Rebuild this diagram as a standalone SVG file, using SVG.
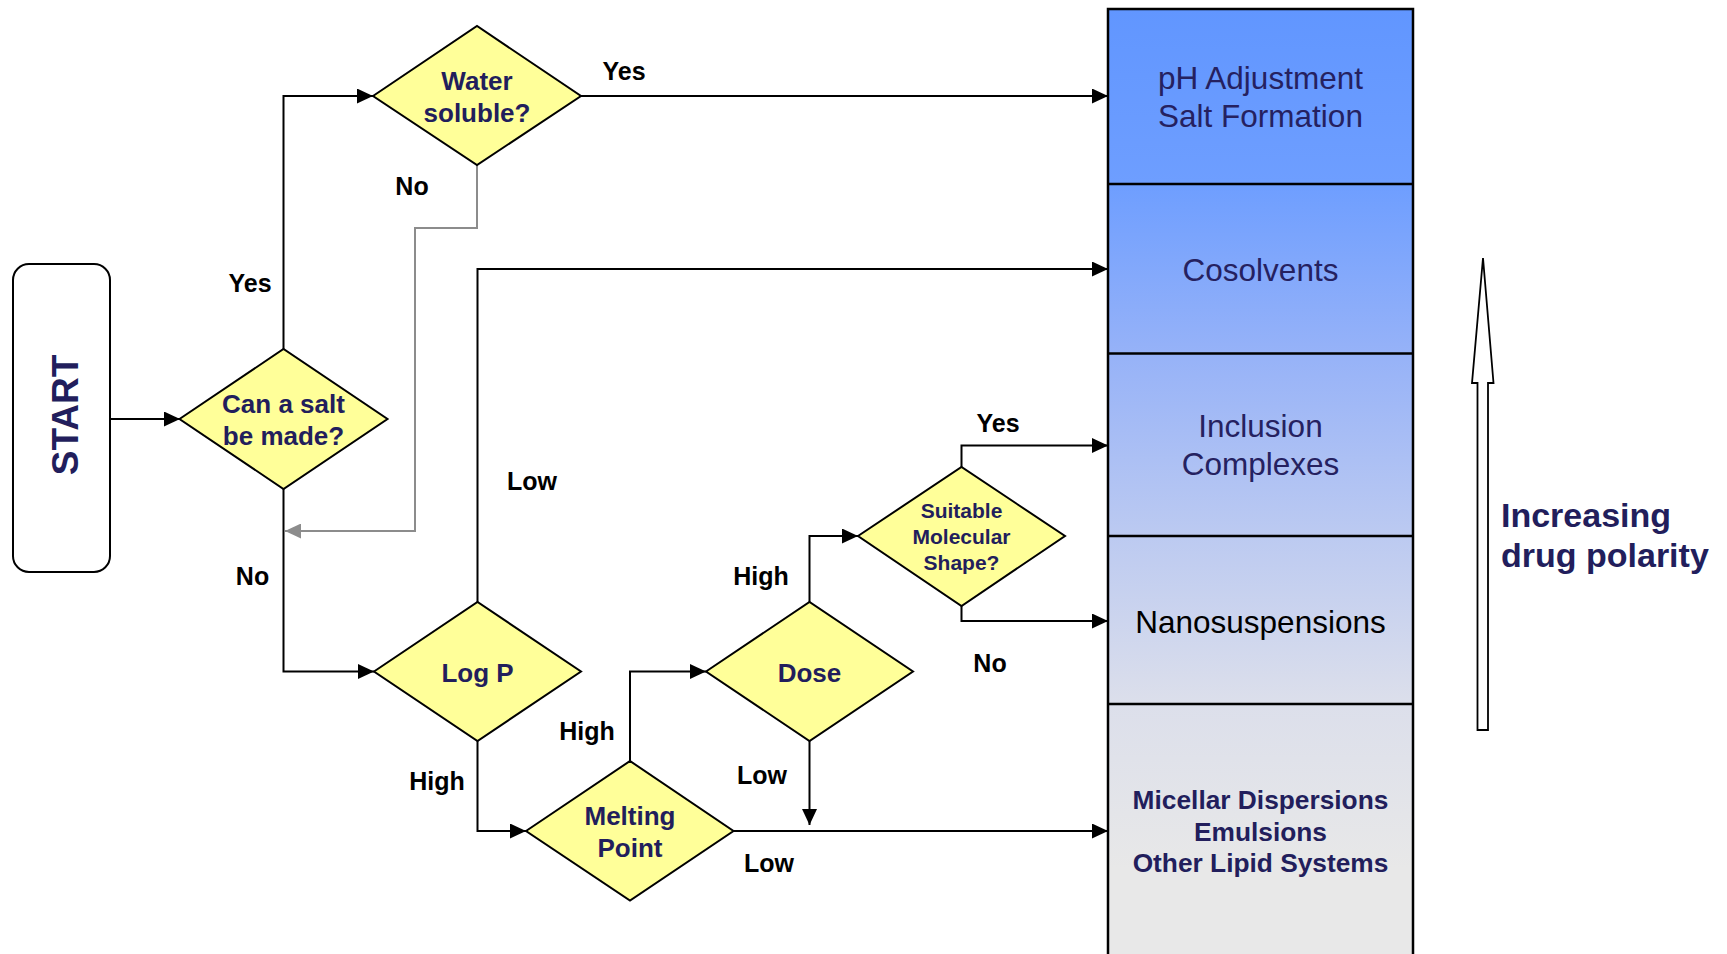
<svg xmlns="http://www.w3.org/2000/svg" width="1727" height="954" viewBox="0 0 1727 954">
<style>
.dia{fill:#ffff99;stroke:#000;stroke-width:2;}
.dt{font-family:"Liberation Sans",Arial,sans-serif;font-weight:bold;font-size:26px;fill:#221e5c;text-anchor:middle;}
.dts{font-family:"Liberation Sans",Arial,sans-serif;font-weight:bold;font-size:21px;fill:#221e5c;text-anchor:middle;}
.lbl{font-family:"Liberation Sans",Arial,sans-serif;font-weight:bold;font-size:25px;fill:#000;text-anchor:middle;}
.con{fill:none;stroke:#000;stroke-width:2;}
.gcon{fill:none;stroke:#8c8c8c;stroke-width:2;}
.ct{font-family:"Liberation Sans",Arial,sans-serif;font-size:31.5px;fill:#252160;text-anchor:middle;}
.ctk{font-family:"Liberation Sans",Arial,sans-serif;font-size:31.5px;fill:#000;text-anchor:middle;}
.ctb{font-family:"Liberation Sans",Arial,sans-serif;font-weight:bold;font-size:26.3px;fill:#221e5c;text-anchor:middle;}
.sep{stroke:#000;stroke-width:2.5;}
</style>
<defs>
<marker id="ah" markerUnits="userSpaceOnUse" markerWidth="16" markerHeight="15" refX="16" refY="7.5" orient="auto"><path d="M0,0 L16,7.5 L0,15 z" fill="#000"/></marker>
<marker id="ahg" markerUnits="userSpaceOnUse" markerWidth="16" markerHeight="15" refX="16" refY="7.5" orient="auto"><path d="M0,0 L16,7.5 L0,15 z" fill="#8c8c8c"/></marker>
<linearGradient id="colg" gradientUnits="userSpaceOnUse" x1="0" y1="9" x2="0" y2="954">
<stop offset="0" stop-color="#6196ff"/>
<stop offset="0.185" stop-color="#6e9eff"/>
<stop offset="0.364" stop-color="#96b2f8"/>
<stop offset="0.558" stop-color="#bccaf1"/>
<stop offset="0.735" stop-color="#dcdfeb"/>
<stop offset="0.91" stop-color="#e8e8e8"/>
<stop offset="1" stop-color="#e8e8e8"/>
</linearGradient>
</defs>

<g id="connectors">
<path class="con" d="M110,419 L180,419" marker-end="url(#ah)"/>
<path class="con" d="M283.5,349 L283.5,96 L373,96" marker-end="url(#ah)"/>
<path class="con" d="M580.5,96 L1108,96" marker-end="url(#ah)"/>
<path class="gcon" d="M477,165 L477,228 L415,228 L415,531 L285,531" marker-end="url(#ahg)"/>
<path class="con" d="M283.5,489 L283.5,671.5 L374,671.5" marker-end="url(#ah)"/>
<path class="con" d="M477.5,602 L477.5,269 L1108,269" marker-end="url(#ah)"/>
<path class="con" d="M477.5,741 L477.5,831 L526,831" marker-end="url(#ah)"/>
<path class="con" d="M630,761 L630,671.5 L706,671.5" marker-end="url(#ah)"/>
<path class="con" d="M809.5,602 L809.5,536 L858,536" marker-end="url(#ah)"/>
<path class="con" d="M809.5,741 L809.5,825" marker-end="url(#ah)"/>
<path class="con" d="M733.5,831 L1108,831" marker-end="url(#ah)"/>
<path class="con" d="M961.5,467 L961.5,445.5 L1108,445.5" marker-end="url(#ah)"/>
<path class="con" d="M961.5,606 L961.5,621 L1108,621" marker-end="url(#ah)"/>
</g>

<g id="labels">
<text class="lbl" x="624" y="80">Yes</text>
<text class="lbl" x="412" y="195">No</text>
<text class="lbl" x="250" y="292">Yes</text>
<text class="lbl" x="252.5" y="585">No</text>
<text class="lbl" x="532" y="490">Low</text>
<text class="lbl" x="437" y="790">High</text>
<text class="lbl" x="587" y="740">High</text>
<text class="lbl" x="761" y="585">High</text>
<text class="lbl" x="762" y="784">Low</text>
<text class="lbl" x="769" y="872">Low</text>
<text class="lbl" x="990" y="672">No</text>
<text class="lbl" x="998" y="432">Yes</text>
</g>

<g id="start">
<rect x="13" y="264" width="97" height="308" rx="16" ry="16" fill="#fff" stroke="#000" stroke-width="2"/>
<text transform="translate(78,415) rotate(-90)" text-anchor="middle" font-family="Liberation Sans,Arial,sans-serif" font-weight="bold" font-size="37" fill="#221e5c">START</text>
</g>

<g id="can-salt">
<polygon class="dia" points="179.5,419 283.5,349 387.5,419 283.5,489"/>
<text class="dt" x="283.5" y="413">Can a salt</text>
<text class="dt" x="283.5" y="445">be made?</text>
</g>

<g id="water-soluble">
<polygon class="dia" points="373,96 477,26 581,96 477,165"/>
<text class="dt" x="477" y="90">Water</text>
<text class="dt" x="477" y="121.5">soluble?</text>
</g>

<g id="log-p">
<polygon class="dia" points="374,671.5 477.5,602 581,671.5 477.5,741"/>
<text class="dt" x="477.5" y="681.5">Log P</text>
</g>

<g id="dose">
<polygon class="dia" points="706,671.5 809.5,602 913,671.5 809.5,741"/>
<text class="dt" x="809.5" y="681.5">Dose</text>
</g>

<g id="melting-point">
<polygon class="dia" points="526,831 630,761 733.5,831 630,900.5"/>
<text class="dt" x="630" y="825">Melting</text>
<text class="dt" x="630" y="856.5">Point</text>
</g>

<g id="suitable-shape">
<polygon class="dia" points="858,536 961.5,467 1065,536 961.5,606"/>
<text class="dts" x="961.5" y="518">Suitable</text>
<text class="dts" x="961.5" y="544">Molecular</text>
<text class="dts" x="961.5" y="569.5">Shape?</text>
</g>

<g id="formulation-column">
<rect x="1108" y="9" width="305" height="960" fill="url(#colg)" stroke="#000" stroke-width="2.5"/>
<line class="sep" x1="1108" y1="184" x2="1413" y2="184"/>
<line class="sep" x1="1108" y1="353.5" x2="1413" y2="353.5"/>
<line class="sep" x1="1108" y1="536" x2="1413" y2="536"/>
<line class="sep" x1="1108" y1="704" x2="1413" y2="704"/>
</g>

<g id="ph-adjustment">
<text class="ct" x="1260.5" y="89">pH Adjustment</text>
<text class="ct" x="1260.5" y="126.5">Salt Formation</text>
</g>
<g id="cosolvents">
<text class="ct" x="1260.5" y="281">Cosolvents</text>
</g>
<g id="inclusion-complexes">
<text class="ct" x="1260.5" y="437">Inclusion</text>
<text class="ct" x="1260.5" y="475">Complexes</text>
</g>
<g id="nanosuspensions">
<text class="ctk" x="1260.5" y="633">Nanosuspensions</text>
</g>
<g id="lipid-systems">
<text class="ctb" x="1260.5" y="809">Micellar Dispersions</text>
<text class="ctb" x="1260.5" y="840.5">Emulsions</text>
<text class="ctb" x="1260.5" y="872">Other Lipid Systems</text>
</g>

<g id="polarity-arrow">
<polygon points="1483,258 1493.5,383 1488,383 1488,730 1477.5,730 1477.5,383 1472,383" fill="#fff" stroke="#000" stroke-width="1.8" stroke-linejoin="miter"/>
<text x="1501" y="527" font-family="Liberation Sans,Arial,sans-serif" font-weight="bold" font-size="34" fill="#221e5c">Increasing</text>
<text x="1501" y="567" font-family="Liberation Sans,Arial,sans-serif" font-weight="bold" font-size="34" fill="#221e5c">drug polarity</text>
</g>
</svg>
